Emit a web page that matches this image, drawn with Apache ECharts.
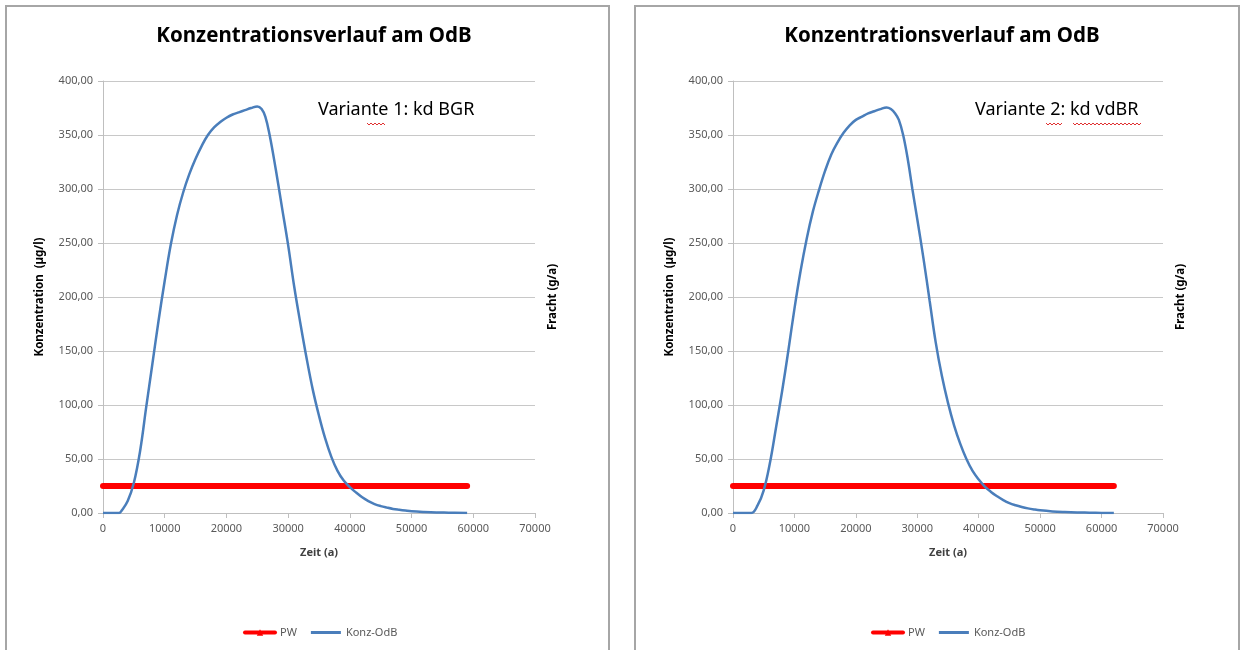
<!DOCTYPE html>
<html>
<head>
<meta charset="utf-8">
<script src="https://cdn.jsdelivr.net/npm/echarts@6/dist/echarts.min.js"></script>
<style>
  html, body { margin: 0; padding: 0; background: #fff; }
  #chart { width: 1243px; height: 650px; }
</style>
</head>
<body>
<div id="chart"></div>
<script>
// Werte
var titel = 'Konzentrationsverlauf am OdB';
var varianten = ['Variante 1: kd BGR', 'Variante 2: kd vdBR'];
var xTicks = [0, 10000, 20000, 30000, 40000, 50000, 60000, 70000];
var yTicks = [0, 50, 100, 150, 200, 250, 300, 350, 400];

// Variante 1
var zeit1 = [0, 1000, 2000, 2600, 3000, 4000, 5000, 6000, 7000, 8000, 9000, 10000, 11000, 12000, 13000, 14000, 15000, 16000, 17000, 18000, 19000, 20000, 21000, 22000, 23000, 24000, 25000, 25700, 26300, 27000, 28000, 29000, 30000, 31000, 32000, 33000, 34000, 35000, 36000, 37000, 38000, 39000, 40000, 41000, 42000, 43000, 44000, 45000, 46000, 47000, 48000, 49000, 50000, 52000, 54000, 56000, 59000];
var konz1 = [0, 0, 0, 0, 2, 11, 28, 57, 98, 138, 178, 215, 249, 276, 297, 314, 328, 340, 350, 357, 362, 366, 369, 371, 373, 375, 376.5, 374, 367, 350, 318, 283, 248, 209, 175, 143, 114, 90, 69, 52, 39, 30, 24, 19, 14.5, 11, 8.3, 6.4, 5, 3.8, 3, 2.3, 1.7, 1, 0.5, 0.3, 0];
var pwZeit1 = [0, 59000];

// Variante 2
var zeit2 = [0, 1000, 2000, 3000, 4000, 5000, 6000, 7000, 8000, 9000, 10000, 11000, 12000, 13000, 14000, 15000, 16000, 17000, 18000, 19000, 20000, 21000, 22000, 23000, 24000, 25000, 25700, 26400, 27000, 27700, 28500, 29200, 30000, 31000, 32000, 33000, 34000, 35000, 36000, 37000, 38000, 39000, 40000, 41000, 42000, 43000, 44000, 45000, 46000, 47000, 48000, 49000, 50000, 52000, 54000, 56000, 58000, 60000, 62000];
var konz2 = [0, 0, 0, 0, 7, 21, 46, 79, 113, 150, 189, 224, 254, 279, 299, 317, 332, 343, 352, 359, 364, 367, 370, 372, 374, 375.5, 374, 370, 364, 350, 326, 300, 272, 236, 197, 158, 127, 102, 81, 64, 50, 39, 31, 24.4, 19.5, 15.5, 12, 9.2, 7.2, 5.6, 4.3, 3.3, 2.5, 1.5, 0.9, 0.5, 0.3, 0.1, 0];
var pwZeit2 = [0, 62000];

var pwWert = 25;

var schrift = '"Noto Sans", sans-serif';
var grau = '#595959';

function paare (xs, ys) {
  var out = [];
  for (var i = 0; i < xs.length; i++) out.push([xs[i], ys[i]]);
  return out;
}

function pwLinie (xs) {
  var out = [];
  for (var i = 0; i < xs.length; i++) out.push([xs[i], pwWert]);
  return out;
}

// rote Wellenlinie der Rechtschreibpruefung
function welle (x0, x1, y) {
  var pts = [];
  var k = 0;
  for (var x = x0; x <= x1; x += 2) {
    pts.push([x, y + (k % 2 === 0 ? 0 : 2)]);
    k++;
  }
  return {
    type: 'polyline',
    shape: { points: pts },
    style: { stroke: '#e03030', lineWidth: 1, fill: null },
    silent: true
  };
}

var gridLeft = [103, 733];

function xAchse (idx) {
  return {
    type: 'value',
    gridIndex: idx,
    min: xTicks[0],
    max: xTicks[xTicks.length - 1],
    interval: xTicks[1] - xTicks[0],
    name: 'Zeit (a)',
    nameLocation: 'middle',
    nameGap: 34,
    nameTextStyle: { fontFamily: schrift, fontWeight: 'bold', fontSize: 11, color: '#404040' },
    axisLine: { show: true, lineStyle: { color: '#bfbfbf', width: 1 } },
    axisTick: { show: true, inside: false, length: 5, lineStyle: { color: '#bfbfbf' } },
    axisLabel: {
      fontFamily: schrift, fontSize: 11, color: grau, margin: 10,
      formatter: function (v) { return String(v); }
    },
    splitLine: { show: false }
  };
}

function yAchse (idx) {
  return {
    type: 'value',
    gridIndex: idx,
    position: 'left',
    min: yTicks[0],
    max: yTicks[yTicks.length - 1],
    interval: yTicks[1] - yTicks[0],
    name: 'Konzentration  (µg/l)',
    nameLocation: 'middle',
    nameRotate: 90,
    nameGap: 57,
    nameTextStyle: { fontFamily: schrift, fontWeight: 'bold', fontSize: 11.5, color: '#000' },
    axisLine: { show: true, lineStyle: { color: '#bfbfbf', width: 1 } },
    axisTick: { show: true, inside: false, length: 5, lineStyle: { color: '#bfbfbf' } },
    axisLabel: {
      fontFamily: schrift, fontSize: 11, color: grau, margin: 10,
      formatter: function (v) { return v.toFixed(2).replace('.', ','); }
    },
    splitLine: { show: true, lineStyle: { color: '#c8c8c8', width: 1 } }
  };
}

function frachtAchse (idx) {
  return {
    type: 'value',
    gridIndex: idx,
    position: 'right',
    min: yTicks[0],
    max: yTicks[yTicks.length - 1],
    name: 'Fracht (g/a)',
    nameLocation: 'middle',
    nameRotate: 90,
    nameGap: 12,
    nameTextStyle: { fontFamily: schrift, fontWeight: 'bold', fontSize: 11.5, color: '#000' },
    axisLine: { show: false },
    axisTick: { show: false },
    axisLabel: { show: false },
    splitLine: { show: false }
  };
}

function serien (idx, zeit, konz, pwZeit) {
  return [{
    name: 'PW',
    type: 'line',
    xAxisIndex: idx,
    yAxisIndex: idx * 2,
    data: pwLinie(pwZeit),
    symbol: 'triangle',
    symbolSize: 6,
    showSymbol: false,
    lineStyle: { color: '#ff0000', width: 6, cap: 'round' },
    itemStyle: { color: '#ff0000' },
    z: 2
  }, {
    name: 'Konz-OdB',
    type: 'line',
    xAxisIndex: idx,
    yAxisIndex: idx * 2,
    data: paare(zeit, konz),
    smooth: 0.4,
    showSymbol: false,
    symbol: 'none',
    lineStyle: { color: '#4a7ebb', width: 2.5 },
    itemStyle: { color: '#4a7ebb' },
    z: 3
  }];
}

var legendDaten = [
  { name: 'PW', lineStyle: { width: 4 } },
  { name: 'Konz-OdB', icon: 'path://M0,0 L30,0 L30,3 L0,3 Z' }
];

var chart = echarts.init(document.getElementById('chart'), null, { renderer: 'canvas' });

var option = {
  backgroundColor: '#fff',
  animation: false,
  title: [{
    text: titel, left: 309, top: 21, textAlign: 'center',
    textStyle: { fontFamily: schrift, fontWeight: 'bold', fontSize: 20.5, color: '#000' }
  }, {
    text: titel, left: 937, top: 21, textAlign: 'center',
    textStyle: { fontFamily: schrift, fontWeight: 'bold', fontSize: 20.5, color: '#000' }
  }],
  legend: [{
    data: legendDaten,
    left: 238, top: 622,
    itemWidth: 30, itemHeight: 8, itemGap: 14,
    textStyle: { fontFamily: schrift, fontSize: 11, color: grau },
    selectedMode: false
  }, {
    data: legendDaten,
    left: 866, top: 622,
    itemWidth: 30, itemHeight: 8, itemGap: 14,
    textStyle: { fontFamily: schrift, fontSize: 11, color: grau },
    selectedMode: false
  }],
  grid: [
    { left: gridLeft[0], top: 81, width: 432, height: 432 },
    { left: gridLeft[1], top: 81, width: 430, height: 432 }
  ],
  xAxis: [xAchse(0), xAchse(1)],
  yAxis: [yAchse(0), frachtAchse(0), yAchse(1), frachtAchse(1)],
  series: serien(0, zeit1, konz1, pwZeit1).concat(serien(1, zeit2, konz2, pwZeit2)),
  graphic: [
    {
      type: 'rect', shape: { x: 6, y: 6, width: 603, height: 660 },
      style: { fill: null, stroke: '#a6a6a6', lineWidth: 2 }, silent: true, z: -1
    },
    {
      type: 'rect', shape: { x: 635, y: 6, width: 604, height: 660 },
      style: { fill: null, stroke: '#a6a6a6', lineWidth: 2 }, silent: true, z: -1
    },
    {
      type: 'text', left: 318, top: 101,
      style: { text: varianten[0], fontFamily: schrift, fontSize: 18, fill: '#000' }
    },
    {
      type: 'text', left: 975, top: 101,
      style: { text: varianten[1], fontFamily: schrift, fontSize: 18, fill: '#000' }
    },
    welle(367, 385, 123),
    welle(1046, 1062, 123),
    welle(1073, 1141, 123)
  ]
};

chart.setOption(option);
</script>
</body>
</html>
